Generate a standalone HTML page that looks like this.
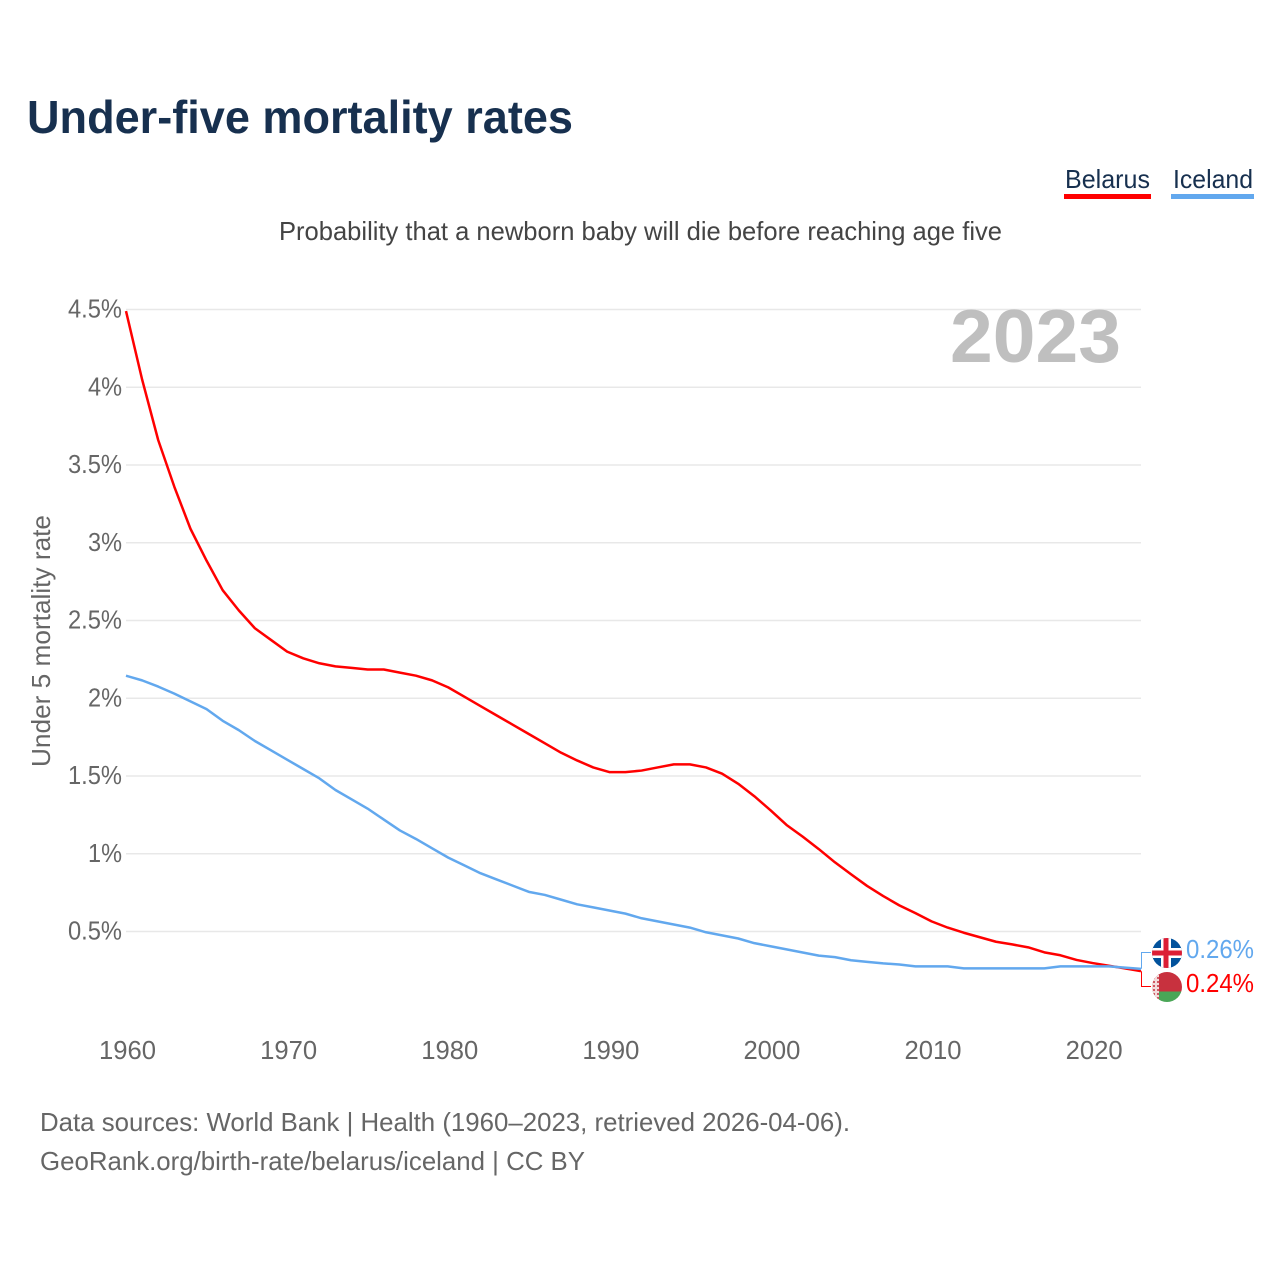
<!DOCTYPE html>
<html lang="en">
<head>
<meta charset="utf-8">
<title>Under-five mortality rates</title>
<style>
html,body{margin:0;padding:0;background:#fff;width:1280px;height:1280px;overflow:hidden}
svg{display:block}
text{font-family:"Liberation Sans",sans-serif}
</style>
</head>
<body>
<svg id="chart" width="1280" height="1280" viewBox="0 0 1280 1280" xmlns="http://www.w3.org/2000/svg">
  <defs>
    <clipPath id="clip-top"><circle cx="1167" cy="953" r="15"/></clipPath>
    <clipPath id="clip-bottom"><circle cx="1167" cy="987" r="15"/></clipPath>
    <pattern id="bel-pattern" width="4" height="4" patternUnits="userSpaceOnUse">
      <rect width="4" height="4" fill="#f3dcdc"/>
      <rect x="1" y="1" width="2" height="2" fill="#cf5a64"/>
    </pattern>
  </defs>
  <text x="27" y="133" font-size="46" font-weight="700" fill="#17304f" textLength="546" lengthAdjust="spacingAndGlyphs">Under-five mortality rates</text>
  <text x="279" y="240" font-size="26" fill="#444" textLength="723" lengthAdjust="spacingAndGlyphs">Probability that a newborn baby will die before reaching age five</text>

  <g>
    <text x="1065" y="188" font-size="26" fill="#17304f" textLength="85" lengthAdjust="spacingAndGlyphs">Belarus</text>
    <rect x="1064" y="194" width="87" height="5" fill="#ff0000"/>
  </g>
  <g>
    <text x="1173" y="188" font-size="26" fill="#17304f" textLength="80" lengthAdjust="spacingAndGlyphs">Iceland</text>
    <rect x="1171" y="194" width="83" height="5" fill="#62a8ee"/>
  </g>

  <g id="grid"></g>
  <g id="yticks"></g>
  <g id="xticks"></g>

  <text transform="translate(50,767) rotate(-90)" x="0" y="0" font-size="26" fill="#666" textLength="252" lengthAdjust="spacingAndGlyphs">Under 5 mortality rate</text>

  <text id="year-label" x="950" y="362" font-size="75" font-weight="700" fill="#bfbfbf" textLength="171" lengthAdjust="spacingAndGlyphs">2023</text>

  <g id="series"></g>
  <g id="ends"></g>

  <g clip-path="url(#clip-top)">
    <rect x="1152" y="938" width="30" height="30" fill="#02529c"/>
    <rect x="1152" y="948" width="30" height="10" fill="#fff"/>
    <rect x="1161" y="938" width="10" height="30" fill="#fff"/>
    <rect x="1152" y="950.500" width="30" height="5" fill="#dc1e35"/>
    <rect x="1163.500" y="938" width="5" height="30" fill="#dc1e35"/>
  </g>
  <g clip-path="url(#clip-bottom)">
    <rect x="1152" y="972" width="30" height="19.500" fill="#c8313e"/>
    <rect x="1152" y="991.500" width="30" height="10.500" fill="#4aa657"/>
    <rect x="1152" y="972" width="7" height="30" fill="url(#bel-pattern)"/>
  </g>

  <text x="40" y="1131" font-size="26" fill="#666" textLength="810" lengthAdjust="spacingAndGlyphs">Data sources: World Bank | Health (1960–2023, retrieved 2026-04-06).</text>
  <text x="40" y="1170" font-size="26" fill="#666" textLength="545" lengthAdjust="spacingAndGlyphs">GeoRank.org/birth-rate/belarus/iceland | CC BY</text>
</svg>

<script>
const years = [1960,1961,1962,1963,1964,1965,1966,1967,1968,1969,1970,1971,1972,1973,1974,1975,1976,1977,1978,1979,1980,1981,1982,1983,1984,1985,1986,1987,1988,1989,1990,1991,1992,1993,1994,1995,1996,1997,1998,1999,2000,2001,2002,2003,2004,2005,2006,2007,2008,2009,2010,2011,2012,2013,2014,2015,2016,2017,2018,2019,2020,2021,2022,2023];
const belarusValues = [4.49,4.05,3.66,3.36,3.09,2.885,2.695,2.565,2.45,2.375,2.30,2.257,2.225,2.205,2.195,2.185,2.185,2.165,2.145,2.115,2.07,2.01,1.95,1.89,1.83,1.77,1.71,1.65,1.60,1.555,1.525,1.525,1.535,1.555,1.575,1.575,1.555,1.515,1.45,1.37,1.28,1.185,1.11,1.03,0.945,0.868,0.793,0.728,0.668,0.618,0.565,0.525,0.492,0.463,0.434,0.417,0.398,0.366,0.347,0.317,0.297,0.28,0.263,0.245];
const icelandValues = [2.145,2.115,2.075,2.03,1.98,1.93,1.855,1.795,1.725,1.665,1.605,1.545,1.485,1.41,1.35,1.29,1.22,1.15,1.095,1.035,0.975,0.925,0.875,0.835,0.795,0.755,0.735,0.705,0.675,0.655,0.635,0.615,0.585,0.565,0.545,0.525,0.495,0.475,0.455,0.425,0.405,0.385,0.365,0.345,0.335,0.315,0.305,0.295,0.288,0.276,0.276,0.276,0.263,0.263,0.263,0.263,0.263,0.263,0.276,0.276,0.276,0.276,0.268,0.26];
const yTickValues = [0.5,1,1.5,2,2.5,3,3.5,4,4.5];
const yTickLabels = ["0.5%","1%","1.5%","2%","2.5%","3%","3.5%","4%","4.5%"];
const xTickValues = [1960,1970,1980,1990,2000,2010,2020];
const xTickLabels = ["1960","1970","1980","1990","2000","2010","2020"];
const belarusEndLabel = "0.24%";
const icelandEndLabel = "0.26%";

const NS = "http://www.w3.org/2000/svg";
const plotLeft = 126, plotRight = 1141;
function xScale(year){ return plotLeft + (year - 1960) * (plotRight - plotLeft) / 63; }
function yScale(value){ return 1009.25 - value * 155.5; }
function make(tag, attrs, parent){
  const el = document.createElementNS(NS, tag);
  for (const k in attrs) el.setAttribute(k, attrs[k]);
  parent.appendChild(el);
  return el;
}
function pathFor(values){
  return values.map((v, i) => (i ? "L" : "M") + xScale(years[i]).toFixed(2) + " " + yScale(v).toFixed(2)).join(" ");
}

const grid = document.getElementById("grid");
const yticks = document.getElementById("yticks");
yTickValues.forEach((v, i) => {
  const line = make("line", {x1: plotLeft, x2: plotRight, y1: yScale(v), y2: yScale(v), stroke: "#e8e8e8", "stroke-width": 1.5}, grid);
  
  
  const label = yTickLabels[i];
  const t = make("text", {x: 122, y: yScale(v) + 8, "font-size": 26, fill: "#666", "text-anchor": "end", textLength: label.length > 2 ? 54 : 34, lengthAdjust: "spacingAndGlyphs"}, yticks);
  
  
  t.textContent = label;
});

const xticks = document.getElementById("xticks");
xTickValues.forEach((v, i) => {
  const t = make("text", {x: xScale(v) + 1.5, y: 1059, "font-size": 26, fill: "#666", "text-anchor": "middle", textLength: 57, lengthAdjust: "spacingAndGlyphs"}, xticks);
  
  
  t.textContent = xTickLabels[i];
});

const series = document.getElementById("series");
const belarusLine = make("path", {d: pathFor(belarusValues), fill: "none", stroke: "#ff0000", "stroke-width": 2.5, "stroke-linejoin": "round"}, series);


const icelandLine = make("path", {d: pathFor(icelandValues), fill: "none", stroke: "#62a8ee", "stroke-width": 2.5, "stroke-linejoin": "round"}, series);



const ends = document.getElementById("ends");
const lastBelarus = belarusValues[belarusValues.length - 1];
const lastIceland = icelandValues[icelandValues.length - 1];
const belarusConnector = make("path", {d: "M1141.500 " + yScale(lastBelarus).toFixed(1) + " V986.500 H1151", fill: "none", stroke: "#ff0000", "stroke-width": 1}, ends);


const icelandConnector = make("path", {d: "M1141.500 " + yScale(lastIceland).toFixed(1) + " V952.500 H1151", fill: "none", stroke: "#62a8ee", "stroke-width": 1}, ends);


const icelandEnd = make("text", {x: 1186, y: 958, "font-size": 26, fill: "#62a8ee", textLength: 68, lengthAdjust: "spacingAndGlyphs"}, ends);


icelandEnd.textContent = icelandEndLabel;
const belarusEnd = make("text", {x: 1186, y: 992, "font-size": 26, fill: "#ff0000", textLength: 68, lengthAdjust: "spacingAndGlyphs"}, ends);


belarusEnd.textContent = belarusEndLabel;
</script>
</body>
</html>
